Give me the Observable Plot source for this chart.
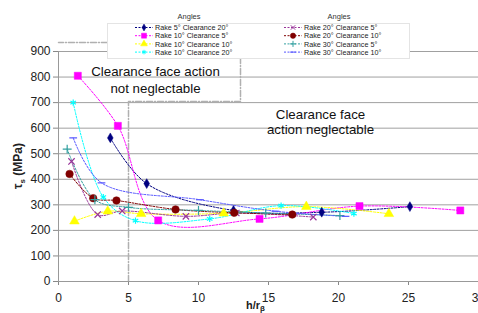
<!DOCTYPE html>
<html><head><meta charset="utf-8">
<script src="https://cdn.jsdelivr.net/npm/d3@7"></script>
<script src="https://cdn.jsdelivr.net/npm/@observablehq/plot@0.6"></script>
<style>
html,body{margin:0;padding:0;background:#fff;overflow:hidden;}
svg{font-family:"Liberation Sans",Arial,sans-serif;}
</style></head>
<body><div id="chart"></div>
<script>
// ---- data ----
const seriesNames = ["Rake 5° Clearance 20°","Rake 10° Clearance 5°","Rake 10° Clearance 10°","Rake 10° Clearance 20°","Rake 20° Clearance 5°","Rake 20° Clearance 10°","Rake 30° Clearance 5°","Rake 30° Clearance 10°"];
const seriesColors = ["#000080","#FF00FF","#FFFF00","#00FFFF","#993399","#800000","#33A0A0","#5555FF"];
const r5c20_x = [3.7, 6.3, 12.5, 18.8, 25.1];
const r5c20_y = [562, 383, 278, 271, 293];
const r10c5_x = [1.38, 4.24, 7.12, 14.36, 21.5, 28.7];
const r10c5_y = [805, 609, 239, 245, 295, 278];
const r10c10_x = [1.14, 3.52, 5.9, 11.8, 17.7, 23.6];
const r10c10_y = [236, 275, 265, 267, 293, 265];
const r10c20_x = [1.05, 3.2, 5.5, 10.8, 15.9, 21.1];
const r10c20_y = [700, 330, 238, 245, 297, 266];
const r20c5_x = [0.93, 2.8, 4.55, 9.1, 12.7, 18.2];
const r20c5_y = [470, 262, 276, 255, 268, 252];
const r20c10_x = [0.79, 2.48, 4.14, 8.36, 12.55, 16.7];
const r20c10_y = [421, 326, 317, 282, 269, 262];
const r30c5_x = [0.62, 2.6, 5.0, 10.0, 14.8, 20.1];
const r30c5_y = [518, 320, 290, 278, 268, 258];
const r30c10_x = [1.05, 3.07, 10.1, 15.5, 20.5];
const r30c10_y = [562, 386, 320, 275, 255];
const xTicks = [0, 5, 10, 15, 20, 25, 30];
const yTicks = [0, 100, 200, 300, 400, 500, 600, 700, 800, 900];

const dash = {draw(ctx, size){const r = Math.sqrt(size/Math.PI)*1.3; ctx.moveTo(-r,0); ctx.lineTo(r,0);}};
const seriesSymbols = ["diamond","square","triangle","asterisk","times","circle","plus",dash];
const seriesFilled = [true,true,true,false,false,true,false,false];
const seriesSizes = [28,50,40,28,28,45,28,28];

const xs = [r5c20_x,r10c5_x,r10c10_x,r10c20_x,r20c5_x,r20c10_x,r30c5_x,r30c10_x];
const ys = [r5c20_y,r10c5_y,r10c10_y,r10c20_y,r20c5_y,r20c10_y,r30c5_y,r30c10_y];
const rows = [];
xs.forEach((xa,i)=>xa.forEach((x,j)=>rows.push({s:i, x, y:ys[i][j]})));

const marks = [
  Plot.ruleY(yTicks.filter(d=>d>0), {stroke:"#a0a0a0", strokeWidth:1, strokeOpacity:1}),
  Plot.line([{x:5,y:0},{x:5,y:704},{x:13,y:704},{x:13,y:935},{x:0,y:935}], {x:"x",y:"y", stroke:"#b0b0b0", strokeDasharray:"6,2,1,2", clip:false}),
];
seriesNames.forEach((n,i)=>{
  const d = rows.filter(r=>r.s===i);
  marks.push(Plot.line(d, {x:"x", y:"y", curve:"catmull-rom", stroke:seriesColors[i], strokeWidth:1, strokeDasharray:"2,1.5"}));
});
seriesNames.forEach((n,i)=>{
  const d = rows.filter(r=>r.s===i);
  marks.push(Plot.dot(d, {x:"x", y:"y", symbol:()=>seriesSymbols[i], r: Math.sqrt(seriesSizes[i]/Math.PI),
    fill: seriesFilled[i] ? seriesColors[i] : "none", stroke: seriesColors[i], strokeWidth: seriesFilled[i]?0.5:1.2}));
});
marks.push(
  Plot.axisY({ticks:yTicks, tickSize:5, tickPadding:3, stroke:"#888", fontSize:12, label:null, fill:"#222"}),
  Plot.axisX({ticks:xTicks, tickSize:4, tickPadding:8, stroke:"#888", fontSize:12, label:null, fill:"#222"}),
  Plot.ruleX([0], {stroke:"#999"}),
  Plot.ruleY([0], {stroke:"#999"}),
  Plot.text(["Clearance face action\nnot neglectable"], {frameAnchor:"top-left", textAnchor:"middle", lineAnchor:"middle", dx:97, dy:27.5, lineHeight:1.25, fontSize:13.3, fill:"#111"}),
  Plot.text(["Clearance face\naction neglectable"], {frameAnchor:"top-left", textAnchor:"middle", lineAnchor:"middle", dx:262, dy:70, lineHeight:1.1, fontSize:13.3, fill:"#111"})
);

const chart = Plot.plot({
  width:478, height:313,
  marginLeft:58, marginRight:0, marginTop:51, marginBottom:32,
  x:{domain:[0,30]}, y:{domain:[0,900]},
  style:{fontFamily:"Liberation Sans, Arial, sans-serif", background:"#fff", overflow:"visible"},
  marks
});
document.getElementById("chart").appendChild(chart);

const svg = d3.select(chart);
svg.append("text").attr("transform","translate(22,166) rotate(-90)").attr("text-anchor","middle")
  .attr("font-size",12).attr("font-weight","bold").attr("fill","#222")
  .html('τ<tspan font-size="8" dy="3">s</tspan><tspan dy="-3"> (MPa)</tspan>');
svg.append("text").attr("x",246).attr("y",309).attr("text-anchor","start").attr("font-size",11).attr("font-weight","bold").attr("fill","#222")
  .html('h/r<tspan font-size="8" dy="2">β</tspan>');

const lg = svg.append("g");
lg.append("rect").attr("x",107.5).attr("y",23.5).attr("width",302).attr("height",35).attr("fill","#fff").attr("stroke","#e4e4e4");
[189,339].forEach(cx=>{
  lg.append("text").attr("x",cx).attr("y",19).attr("text-anchor","middle").attr("font-size",7.5).attr("fill","#333").text("Angles");
});
const symMap = {diamond:d3.symbolDiamond,square:d3.symbolSquare,triangle:d3.symbolTriangle,asterisk:d3.symbolAsterisk,times:d3.symbolTimes,circle:d3.symbolCircle,plus:d3.symbolPlus};
seriesNames.forEach((n,i)=>{
  const col = i<4?0:1, row = i%4;
  const x0 = col===0?135:284, y0 = 27.5+row*8.2;
  const g = lg.append("g");
  g.append("line").attr("x1",x0).attr("x2",x0+18).attr("y1",y0).attr("y2",y0).attr("stroke",seriesColors[i]).attr("stroke-dasharray","2,1.5");
  const sym = typeof seriesSymbols[i]==="string" ? d3.symbol(symMap[seriesSymbols[i]], seriesSizes[i]*0.5)() : d3.symbol(seriesSymbols[i], 16)();
  g.append("path").attr("d",sym).attr("transform",`translate(${x0+9},${y0})`)
    .attr("fill",seriesFilled[i]?seriesColors[i]:"none").attr("stroke",seriesColors[i]).attr("stroke-width",seriesFilled[i]?0.5:1);
  g.append("text").attr("x",x0+20).attr("y",y0+2.6).attr("text-anchor","start").attr("font-size",7.2).attr("fill","#222").text(n);
});
</script></body></html>
